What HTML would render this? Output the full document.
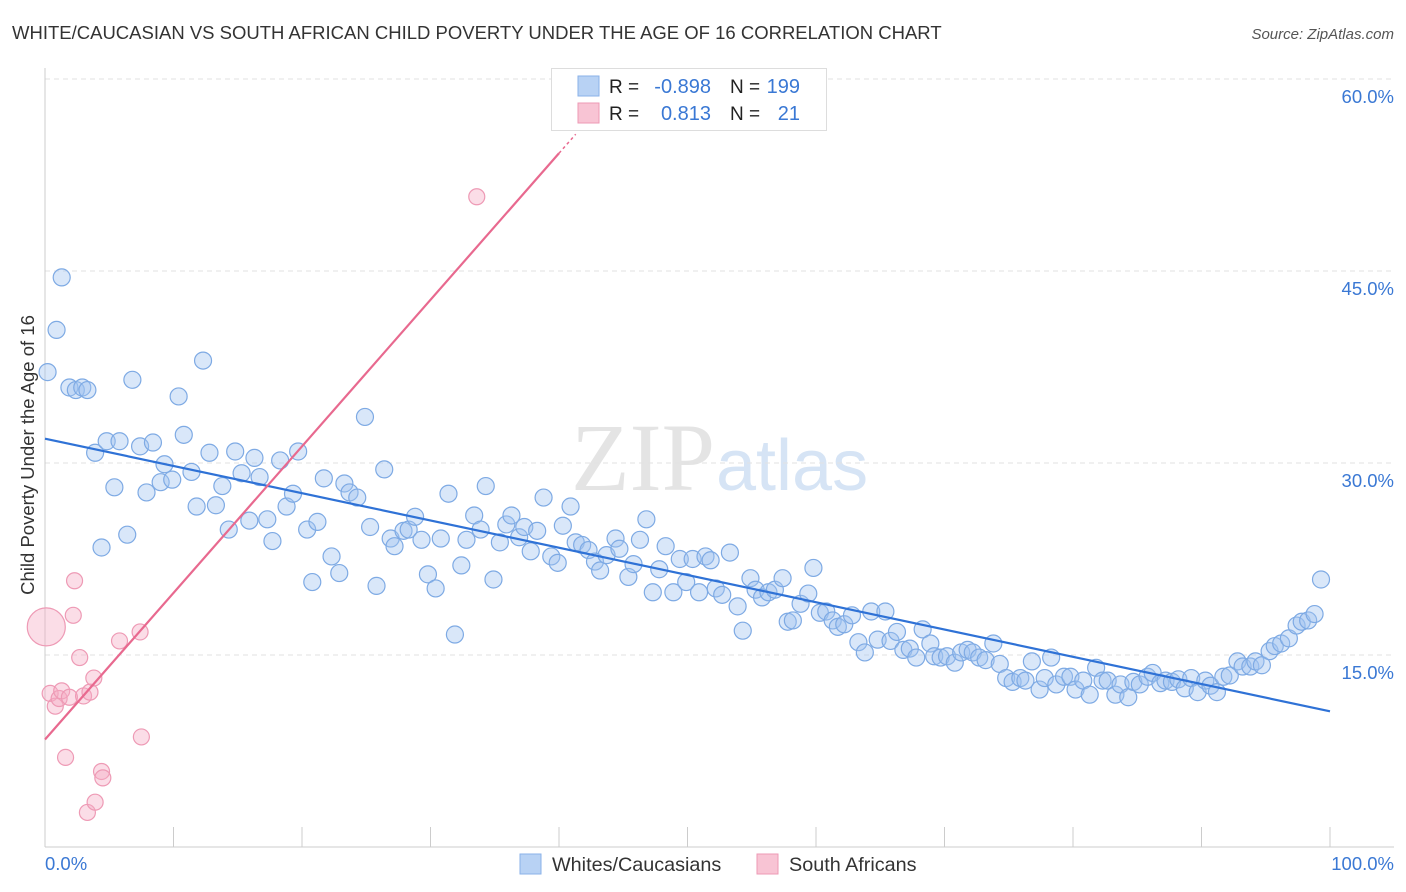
<!DOCTYPE html>
<html><head><meta charset="utf-8"><style>
body{margin:0;background:#fff;font-family:"Liberation Sans",sans-serif;}
#wrap{position:relative;width:1406px;height:892px;overflow:hidden;}
</style></head><body>
<div id="wrap">
<svg id="svg" width="1406" height="892" xmlns="http://www.w3.org/2000/svg">
<text x="12" y="39" font-size="18.5" fill="#333">WHITE/CAUCASIAN VS SOUTH AFRICAN CHILD POVERTY UNDER THE AGE OF 16 CORRELATION CHART</text>
<text x="1394" y="39" font-size="15" fill="#555" font-style="italic" text-anchor="end">Source: ZipAtlas.com</text>
<text x="715" y="490" font-size="96" fill="#e4e4e4" text-anchor="end" font-family="Liberation Serif,serif">ZIP</text>
<text x="716" y="490" font-size="72" fill="#d6e4f5">atlas</text>
<g id="grid"></g><g id="axes"></g><g id="pts"></g><g id="lines"></g>
<text transform="translate(34,455) rotate(-90)" font-size="18.5" fill="#333" text-anchor="middle">Child Poverty Under the Age of 16</text>
<text x="45" y="870" font-size="18.5" fill="#3a78d4">0.0%</text>
<text x="1394" y="870" font-size="18.5" fill="#3a78d4" text-anchor="end">100.0%</text>
<g>
<rect x="551.5" y="68.5" width="275" height="62" fill="#fff" stroke="#ddd"/>
<rect x="578" y="76" width="21" height="20" fill="#b8d2f4" stroke="#8ab2e8"/>
<rect x="578" y="103" width="21" height="20" fill="#f8c4d4" stroke="#ee9ab5"/>
<text x="609" y="93" font-size="19" fill="#222">R =</text>
<text x="711" y="93" font-size="20" fill="#3a78d4" text-anchor="end">-0.898</text>
<text x="730" y="93" font-size="19" fill="#222">N =</text>
<text x="800" y="93" font-size="20" fill="#3a78d4" text-anchor="end">199</text>
<text x="609" y="120" font-size="19" fill="#222">R =</text>
<text x="711" y="120" font-size="20" fill="#3a78d4" text-anchor="end">0.813</text>
<text x="730" y="120" font-size="19" fill="#222">N =</text>
<text x="800" y="120" font-size="20" fill="#3a78d4" text-anchor="end">21</text>
</g>
<g>
<rect x="520" y="854" width="21" height="20" fill="#b8d2f4" stroke="#8ab2e8"/>
<text x="552" y="871" font-size="19.8" fill="#333">Whites/Caucasians</text>
<rect x="757" y="854" width="21" height="20" fill="#f8c4d4" stroke="#ee9ab5"/>
<text x="789" y="871" font-size="19.8" fill="#333">South Africans</text>
</g>
</svg>
</div>
<script>
const yTicks=[15,30,45,60];
const yTickLabels=["15.0%","30.0%","45.0%","60.0%"];
const xTicks=[0,10,20,30,40,50,60,70,80,90,100];
const blueX=[0.2,1.3,0.9,1.9,2.4,2.9,3.3,3.9,4.4,4.8,5.4,5.8,6.4,6.8,7.4,7.9,8.4,9.0,9.3,9.9,10.4,10.8,11.4,11.8,12.3,12.8,13.3,13.8,14.3,14.8,15.3,15.9,16.3,16.7,17.3,17.7,18.3,18.8,19.3,19.7,20.4,20.8,21.2,21.7,22.3,22.9,23.3,23.7,24.3,24.9,25.3,25.8,26.4,26.9,27.2,27.9,28.3,28.8,29.3,29.8,30.4,30.8,31.4,31.9,32.4,32.8,33.4,33.9,34.3,34.9,35.4,35.9,36.3,36.9,37.3,37.8,38.3,38.8,39.4,39.9,40.3,40.9,41.3,41.8,42.3,42.8,43.2,43.7,44.4,44.7,45.4,45.8,46.3,46.8,47.3,47.8,48.3,48.9,49.4,49.9,50.4,50.9,51.4,51.8,52.2,52.7,53.3,53.9,54.3,54.9,55.3,55.8,56.3,56.8,57.4,57.8,58.2,58.8,59.4,59.8,60.3,60.8,61.3,61.7,62.2,62.8,63.3,63.8,64.3,64.8,65.4,65.8,66.3,66.8,67.3,67.8,68.3,68.9,69.2,69.7,70.2,70.8,71.3,71.8,72.2,72.7,73.2,73.8,74.3,74.8,75.3,75.9,76.3,76.8,77.4,77.8,78.3,78.7,79.3,79.8,80.2,80.8,81.3,81.8,82.3,82.7,83.3,83.7,84.3,84.7,85.2,85.8,86.2,86.8,87.2,87.7,88.2,88.7,89.2,89.7,90.3,90.7,91.2,91.7,92.2,92.8,93.2,93.8,94.2,94.7,95.3,95.7,96.2,96.8,97.4,97.8,98.3,98.8,99.3];
const blueY=[37.1,44.5,40.4,35.9,35.7,35.9,35.7,30.8,23.4,31.7,28.1,31.7,24.4,36.5,31.3,27.7,31.6,28.5,29.9,28.7,35.2,32.2,29.3,26.6,38.0,30.8,26.7,28.2,24.8,30.9,29.2,25.5,30.4,28.9,25.6,23.9,30.2,26.6,27.6,30.9,24.8,20.7,25.4,28.8,22.7,21.4,28.4,27.7,27.3,33.6,25.0,20.4,29.5,24.1,23.5,24.7,24.8,25.8,24.0,21.3,20.2,24.1,27.6,16.6,22.0,24.0,25.9,24.8,28.2,20.9,23.8,25.2,25.9,24.2,25.0,23.1,24.7,27.3,22.7,22.2,25.1,26.6,23.8,23.6,23.2,22.3,21.6,22.8,24.1,23.3,21.1,22.1,24.0,25.6,19.9,21.7,23.5,19.9,22.5,20.7,22.5,19.9,22.7,22.4,20.2,19.7,23.0,18.8,16.9,21.0,20.1,19.5,19.9,20.1,21.0,17.6,17.7,19.0,19.8,21.8,18.3,18.4,17.7,17.2,17.4,18.1,16.0,15.2,18.4,16.2,18.4,16.1,16.8,15.4,15.5,14.8,17.0,15.9,14.9,14.8,14.9,14.4,15.2,15.4,15.2,14.8,14.6,15.9,14.3,13.2,12.9,13.2,13.0,14.5,12.3,13.2,14.8,12.7,13.3,13.3,12.3,13.0,11.9,14.0,13.0,13.0,11.9,12.7,11.7,12.9,12.7,13.3,13.6,12.8,13.0,12.9,13.1,12.4,13.2,12.1,13.0,12.6,12.1,13.3,13.4,14.5,14.1,14.1,14.5,14.2,15.3,15.7,15.9,16.3,17.3,17.6,17.7,18.2,20.9];
const pinkX=[0.1,0.4,0.8,1.1,1.3,1.6,1.9,2.2,2.3,2.7,3.0,3.3,3.5,3.8,3.9,4.4,4.5,5.8,7.4,7.5,33.6];
const pinkY=[17.2,12.0,11.0,11.6,12.2,7.0,11.7,18.1,20.8,14.8,11.8,2.7,12.1,13.2,3.5,5.9,5.4,16.1,16.8,8.6,50.8];
const blueTrend=[31.9,10.6];
const pinkTrend=[8.4,54.2];
const pinkTrendEndX=40;
const NS="http://www.w3.org/2000/svg";
const X0=45,X1=1330,Y0=847,PPY=12.8;
const sx=v=>X0+(X1-X0)*v/100;
const sy=v=>Y0-v*PPY;
function mk(tag,attrs,parent){const e=document.createElementNS(NS,tag);for(const k in attrs)e.setAttribute(k,attrs[k]);document.getElementById(parent).appendChild(e);return e;}
yTicks.forEach((t,i)=>{
  const l=mk('line',{x1:45,x2:1394,y1:sy(t),y2:sy(t),stroke:'#e2e2e2','stroke-dasharray':'5,4'},'grid');
  
  
  const tx=mk('text',{x:1394,y:sy(t)+24,'font-size':18.5,fill:'#3a78d4','text-anchor':'end'},'grid');
  tx.textContent=yTickLabels[i];
  
  
});
const ax=mk('line',{x1:45,x2:45,y1:68,y2:847,stroke:'#ccc'},'axes');


const bx=mk('line',{x1:45,x2:1394,y1:847,y2:847,stroke:'#ccc'},'axes');


xTicks.forEach(t=>{
  const l=mk('line',{x1:sx(t),x2:sx(t),y1:827,y2:847,stroke:'#ccc'},'axes');
  
  
});
blueX.forEach((x,i)=>{
  const c=mk('circle',{cx:sx(x),cy:sy(blueY[i]),r:8.5,fill:'rgba(160,195,240,0.4)',stroke:'#7eaae4','stroke-width':1.2},'pts');
  
  
});
pinkX.forEach((x,i)=>{
  const c=mk('circle',{cx:sx(x),cy:sy(pinkY[i]),r:i==0?19:8,fill:'rgba(245,170,195,0.4)',stroke:'#ee9ab5','stroke-width':1.2},'pts');
  
  
});
const bl=mk('line',{x1:sx(0),y1:sy(blueTrend[0]),x2:sx(100),y2:sy(blueTrend[1]),stroke:'#2f72d6','stroke-width':2.2},'lines');


const slope=(pinkTrend[1]-pinkTrend[0])/pinkTrendEndX;
const pl=mk('line',{x1:sx(0),y1:sy(pinkTrend[0]),x2:sx(pinkTrendEndX),y2:sy(pinkTrend[1]),stroke:'#e8698f','stroke-width':2.2},'lines');


const pd=mk('line',{x1:sx(pinkTrendEndX),y1:sy(pinkTrend[1]),x2:sx(pinkTrendEndX+1.3),y2:sy(pinkTrend[1]+slope*1.3),stroke:'#e8698f','stroke-width':1.5,'stroke-dasharray':'3,3'},'lines');


</script>
</body></html>
